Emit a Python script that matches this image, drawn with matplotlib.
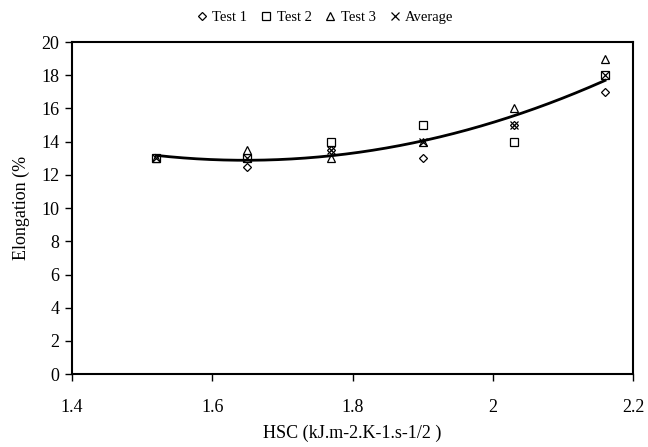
import numpy as np
import matplotlib
matplotlib.use("Agg")
import matplotlib.pyplot as plt

plt.rcParams['font.family'] = ['Liberation Serif', 'DejaVu Serif']

hsc = [1.52, 1.65, 1.77, 1.90, 2.03, 2.16]
test1 = [13, 12.5, 13.5, 13, 15, 17]
test2 = [13, 13, 14, 15, 14, 18]
test3 = [13, 13.5, 13, 14, 16, 19]
average = [13, 13, 13.5, 14, 15, 18]

fig = plt.figure(figsize=(6.48, 4.47), dpi=100)
ax = fig.add_axes([0.111, 0.163, 0.866, 0.743])

ms = 5.5
ax.plot(hsc, test1, linestyle='none', marker='D', ms=ms-1, mfc='white', mec='black', mew=0.9, label='Test 1')
ax.plot(hsc, test2, linestyle='none', marker='s', ms=ms-0.3, mfc='white', mec='black', mew=0.9, label='Test 2')
ax.plot(hsc, test3, linestyle='none', marker='^', ms=ms+0.5, mfc='white', mec='black', mew=0.9, label='Test 3')
ax.plot(hsc, average, linestyle='none', marker='x', ms=ms, mec='black', mew=0.9, label='Average')

# trendline: polynomial fit of the average values
coef = np.polyfit(hsc, average, 2)
xs = np.linspace(min(hsc), max(hsc), 200)
ax.plot(xs, np.polyval(coef, xs), color='black', lw=2)

ax.set_xlim(1.4, 2.2)
ax.set_ylim(0, 20)
ax.set_xticks([1.4, 1.6, 1.8, 2.0, 2.2])
ax.set_xticklabels(['1.4', '1.6', '1.8', '2', '2.2'])
ax.set_yticks(range(0, 21, 2))
ax.tick_params(direction='out', length=5, width=1, labelsize=13, colors='black')
ax.tick_params(axis='x', pad=13)
ax.tick_params(axis='y', pad=4)
for s in ax.spines.values():
    s.set_linewidth(1.5)
ax.set_xlabel('HSC (kJ.m-2.K-1.s-1/2 )', fontsize=13, labelpad=6)
ax.set_ylabel('Elongation (%', fontsize=13, labelpad=8)

fig.legend(loc='upper center', bbox_to_anchor=(0.5, 1.005), ncol=4, frameon=False,
           fontsize=10.5, handletextpad=0.2, columnspacing=0.8, handlelength=1.0)

fig.savefig('out.png', dpi=100)
